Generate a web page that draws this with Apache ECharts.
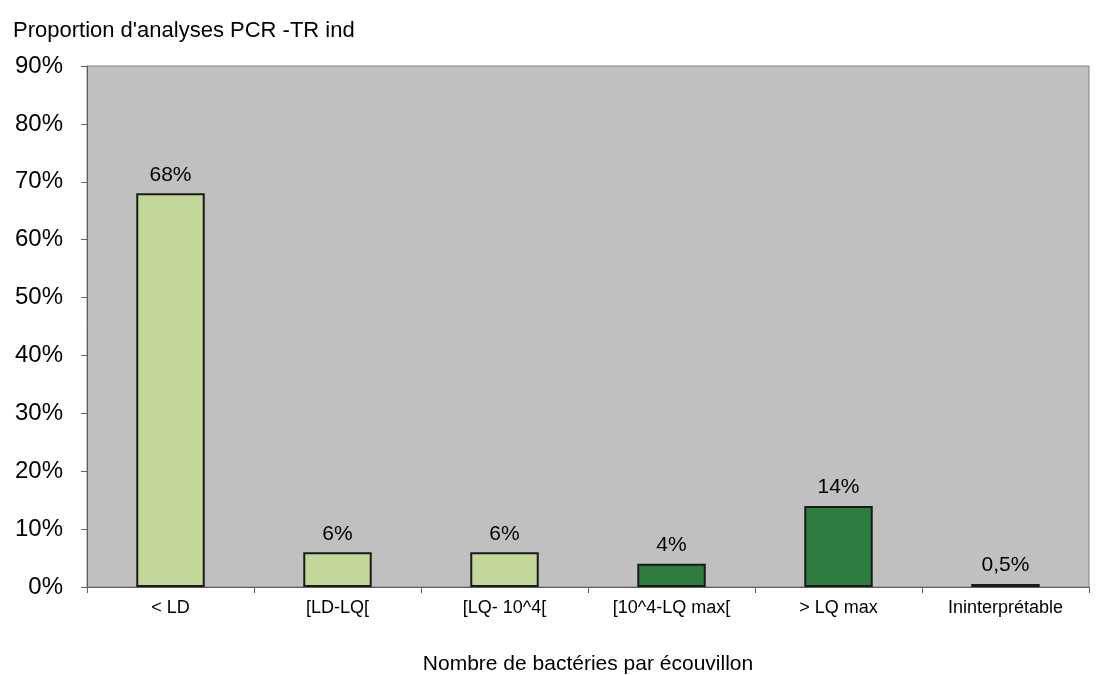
<!DOCTYPE html>
<html>
<head>
<meta charset="utf-8">
<script src="https://cdn.jsdelivr.net/npm/echarts@6/dist/echarts.min.js"></script>
<style>
  html, body { margin: 0; padding: 0; background: #ffffff; }
  #chart { width: 1097px; height: 675px; }
</style>
</head>
<body>
<div id="chart"></div>
<script>
// Categories: bacterial load classes per swab
const categories = ['< LD', '[LD-LQ[', '[LQ- 10^4[', '[10^4-LQ max[', '> LQ max', 'Ininterprétable'];
// Share of RT-PCR analyses in each class (%)
const values = [68, 6, 6, 4, 14, 0.5];
// Fill group per bar: below 10^4 in light green, above in dark green
const groups = ['low', 'low', 'low', 'high', 'high', 'high'];
const yTicks = { min: 0, max: 90, interval: 10 };

const FONT = 'Liberation Sans, Arial, sans-serif';
const fills = { low: '#C4D79B', high: '#2E7D3E' };

const chart = echarts.init(document.getElementById('chart'), null, { renderer: 'canvas' });

chart.setOption({
  animation: false,
  backgroundColor: '#ffffff',
  title: {
    text: "Proportion d'analyses PCR -TR ind",
    left: 8,
    top: 15,
    textStyle: { fontFamily: FONT, fontSize: 22, fontWeight: 'normal', color: '#000' }
  },
  grid: {
    left: 87,
    right: 8,
    top: 66,
    bottom: 88,
    outerBoundsMode: 'none',
    containLabel: false,
    show: true,
    backgroundColor: '#C0C0C0',
    borderColor: '#808080',
    borderWidth: 1
  },
  xAxis: {
    type: 'category',
    data: categories,
    boundaryGap: true,
    name: 'Nombre de bactéries par écouvillon',
    nameLocation: 'middle',
    nameGap: 67,
    nameTextStyle: { fontFamily: FONT, fontSize: 21, color: '#000' },
    axisLine: { lineStyle: { color: '#606060', width: 1 } },
    axisTick: { show: true, length: 6, lineStyle: { color: '#606060' } },
    axisLabel: { fontFamily: FONT, fontSize: 18, color: '#000', margin: 12, interval: 0 }
  },
  yAxis: {
    type: 'value',
    min: yTicks.min,
    max: yTicks.max,
    interval: yTicks.interval,
    axisLine: { show: true, lineStyle: { color: '#606060', width: 1 } },
    axisTick: { show: true, length: 6, lineStyle: { color: '#606060' } },
    splitLine: { show: false },
    axisLabel: {
      fontFamily: FONT, fontSize: 24, color: '#000', margin: 24,
      padding: [6, 0, 0, 0],
      formatter: '{value}%'
    }
  },
  series: [{
    type: 'bar',
    barWidth: '41%',
    data: values.map((v, i) => ({
      value: v,
      itemStyle: { color: fills[groups[i]] }
    })),
    itemStyle: { borderColor: '#1a1a1a', borderWidth: 2 },
    label: {
      show: true,
      position: 'top',
      distance: 8,
      fontFamily: FONT,
      fontSize: 21,
      color: '#000',
      formatter: p => String(p.value).replace('.', ',') + '%'
    }
  }]
});
</script>
</body>
</html>
